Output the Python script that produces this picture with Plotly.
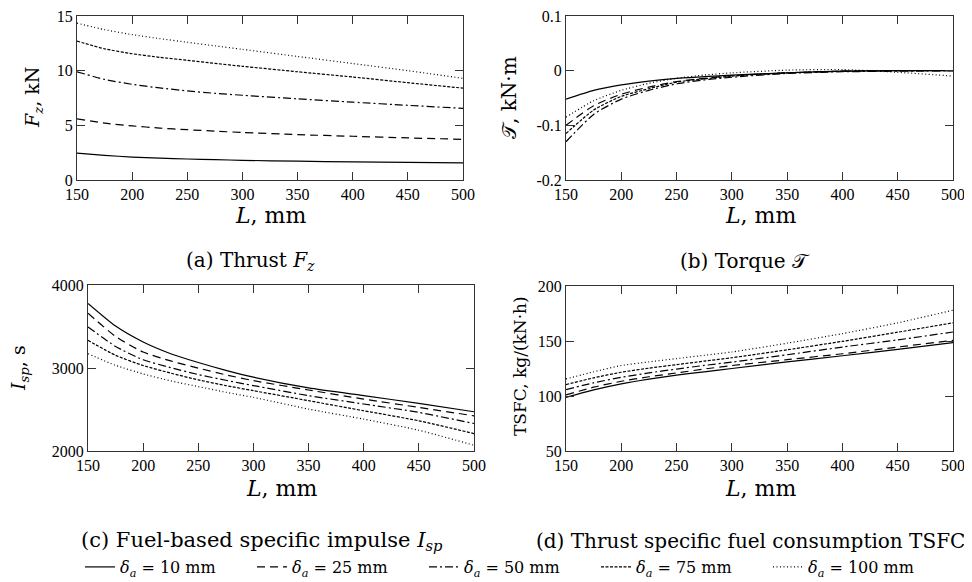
import plotly.graph_objects as go

L = [150, 175, 200, 225, 250, 275, 300, 350, 400, 450, 500]
deltas = ["10", "25", "50", "75", "100"]

thrust = {
    "10": [2.45, 2.25, 2.1, 2.0, 1.92, 1.86, 1.8, 1.72, 1.66, 1.61, 1.57],
    "25": [5.6, 5.2, 4.95, 4.75, 4.6, 4.47, 4.35, 4.15, 4.0, 3.85, 3.72],
    "50": [9.9, 9.2, 8.75, 8.42, 8.15, 7.93, 7.75, 7.42, 7.12, 6.83, 6.55],
    "75": [12.7, 12.0, 11.55, 11.22, 10.95, 10.67, 10.4, 9.9, 9.42, 8.9, 8.4],
    "100": [14.35, 13.75, 13.3, 12.93, 12.6, 12.27, 11.95, 11.3, 10.65, 10.0, 9.3],
}
torque = {
    "10": [-0.052, -0.036, -0.026, -0.019, -0.014, -0.011, -0.008, -0.004, -0.001, 0.0, 0.0],
    "25": [-0.100, -0.064, -0.043, -0.030, -0.020, -0.014, -0.009, -0.004, -0.001, 0.0, 0.0],
    "50": [-0.130, -0.080, -0.052, -0.036, -0.024, -0.017, -0.012, -0.005, -0.002, -0.001, 0.0],
    "75": [-0.115, -0.072, -0.047, -0.033, -0.021, -0.015, -0.010, -0.004, -0.001, 0.0, 0.0],
    "100": [-0.085, -0.055, -0.036, -0.023, -0.014, -0.008, -0.004, 0.001, 0.002, -0.003, -0.010],
}
isp = {
    "10": [3778, 3505, 3313, 3172, 3066, 2972, 2889, 2760, 2667, 2574, 2473],
    "25": [3660, 3380, 3192, 3085, 2998, 2918, 2848, 2735, 2626, 2525, 2424],
    "50": [3495, 3260, 3099, 3005, 2921, 2852, 2788, 2667, 2566, 2465, 2331],
    "75": [3333, 3153, 3030, 2938, 2857, 2788, 2727, 2606, 2485, 2364, 2210],
    "100": [3172, 3032, 2929, 2845, 2776, 2708, 2646, 2505, 2384, 2250, 2069],
}
tsfc = {
    "10": [98.8, 105.5, 111.0, 115.3, 119.0, 122.0, 125.0, 131.0, 136.6, 142.4, 148.5],
    "25": [101.0, 108.0, 113.4, 117.5, 121.0, 124.5, 127.7, 133.0, 138.4, 144.5, 150.6],
    "50": [105.8, 112.0, 117.0, 121.0, 124.5, 127.8, 130.8, 137.5, 144.5, 151.0, 158.2],
    "75": [110.4, 116.5, 121.6, 125.3, 128.5, 131.7, 134.8, 142.0, 149.7, 158.0, 166.5],
    "100": [115.5, 122.0, 127.7, 131.0, 134.0, 137.0, 140.0, 148.0, 156.7, 166.5, 178.0],
}

x_ticks = [150, 200, 250, 300, 350, 400, 450, 500]

dash_styles = {"10": "solid", "25": "8px,5px", "50": "8px,3px,2px,3px", "75": "3px,1.5px", "100": "1px,2.5px"}

# page body adds an 8px margin, so the figure is 8px smaller and all
# reference pixel positions are shifted by -8
OFF = 8
W, H = 972 - OFF, 582 - OFF
TICKFONT = "Liberation Serif"
FONT = "DejaVu Serif"

def px_x(a, b):
    return [(a - OFF) / W, (b - OFF) / W]

def px_y(top, bottom):
    return [1 - (bottom - OFF) / H, 1 - (top - OFF) / H]

fig = go.Figure()

panels = [
    ("x", "y", thrust, px_x(77, 463), px_y(16, 180), [0, 15], [0, 5, 10, 15], ["0", "5", "10", "15"]),
    ("x2", "y2", torque, px_x(566, 953), px_y(16, 180), [-0.2, 0.1], [-0.2, -0.1, 0, 0.1], ["-0.2", "-0.1", "0", "0.1"]),
    ("x3", "y3", isp, px_x(88, 474), px_y(285, 451), [2000, 4000], [2000, 3000, 4000], ["2000", "3000", "4000"]),
    ("x4", "y4", tsfc, px_x(566, 953), px_y(286, 451), [50, 200], [50, 100, 150, 200], ["50", "100", "150", "200"]),
]

for i, (xa, ya, data, xd, yd, yr, yt, ytt) in enumerate(panels):
    for d in deltas:
        fig.add_trace(go.Scatter(
            x=L, y=data[d], xaxis=xa, yaxis=ya, mode="lines",
            line=dict(color="black", width=1.2, dash=dash_styles[d], shape="spline", smoothing=0.6),
            name=f"<i>δ</i><sub><i>a</i></sub> = {d} mm",
            showlegend=(i == 0),
        ))
    suffix = "" if i == 0 else str(i + 1)
    common = dict(showline=True, linecolor="#333", linewidth=1, mirror="ticks",
                  ticks="inside", ticklen=8, tickcolor="#333", tickwidth=1, showgrid=False, zeroline=False,
                  automargin=False, ticklabeloverflow="allow",
                  tickfont=dict(family=TICKFONT, size=16, color="black"))
    fig.layout["xaxis" + suffix] = dict(domain=xd, range=[150, 500], tickvals=x_ticks,
                                        anchor=ya, **common)
    fig.layout["yaxis" + suffix] = dict(domain=yd, range=yr, tickvals=yt, ticktext=ytt, anchor=xa, **common)

ann = []
def add_text(x, y, text, size, angle=0):
    ann.append(dict(x=(x - OFF) / W, y=1 - (y - OFF) / H, xref="paper", yref="paper", text=text,
                    showarrow=False, textangle=angle, font=dict(family=FONT, size=size, color="black"),
                    xanchor="center", yanchor="middle"))

# x titles
add_text(270, 215, "<i>L</i>, mm", 22)
add_text(760, 215, "<i>L</i>, mm", 22)
add_text(281, 488, "<i>L</i>, mm", 22)
add_text(760, 488, "<i>L</i>, mm", 22)
# y titles
add_text(33, 98, "<i>F</i><sub><i>z</i></sub>, kN", 19, -90)
add_text(509, 98, "𝒯, kN·m", 20, -90)
add_text(19, 368, "<i>I</i><sub><i>sp</i></sub>, s", 19, -90)
add_text(520, 366, "TSFC, kg/(kN·h)", 17, -90)
# subcaptions
add_text(250, 261, "(a) Thrust <i>F</i><sub><i>z</i></sub>", 20)
add_text(745, 261, "(b) Torque 𝒯", 20)
add_text(262, 541, "(c) Fuel-based specific impulse <i>I</i><sub><i>sp</i></sub>", 21)
add_text(750, 541, "(d) Thrust specific fuel consumption TSFC", 20)

fig.update_layout(
    width=W, height=H, margin=dict(l=0, r=0, t=0, b=0, autoexpand=False),
    paper_bgcolor="white", plot_bgcolor="white",
    annotations=ann,
    legend=dict(orientation="h", x=(510 - OFF) / W, xanchor="center", y=1 - (567 - OFF) / H, yanchor="middle",
                font=dict(family=FONT, size=16, color="black"), itemwidth=30, tracegroupgap=0,
                entrywidth=127, entrywidthmode="pixels",
                bgcolor="rgba(0,0,0,0)"),
    showlegend=True,
)

fig.write_html("out.html")
